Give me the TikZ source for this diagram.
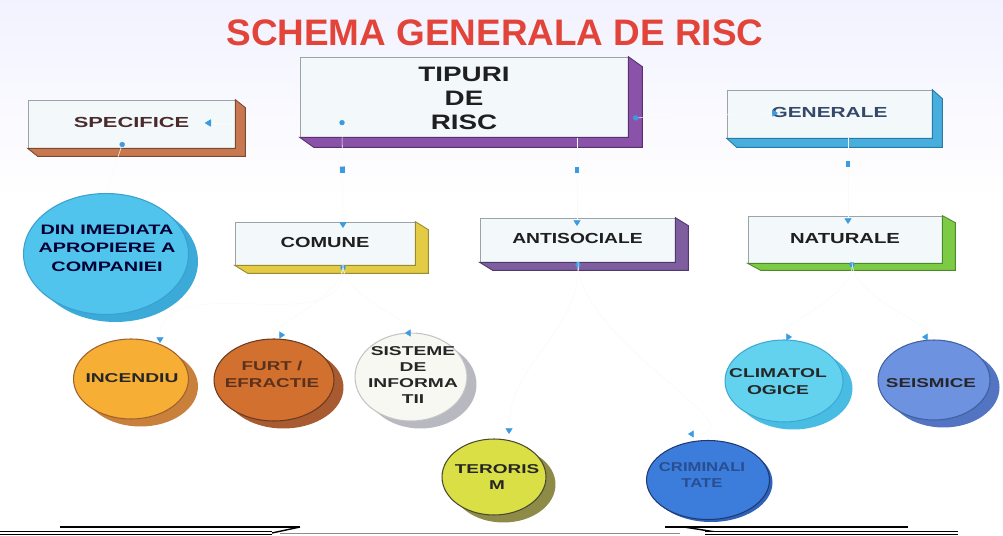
\documentclass[tikz,border=0pt]{standalone}
\usepackage{fontspec}
\setmainfont{Liberation Sans}
\usepackage{graphicx}
\usetikzlibrary{shapes.geometric,shadows,arrows.meta,calc,decorations.markings}

\newcommand{\wtxt}[2]{\scalebox{#1}[1]{\begin{tabular}{@{}c@{}}#2\end{tabular}}}

\definecolor{titlered}{HTML}{E2443A}
\definecolor{tipblue}{HTML}{3B9BE0}
\definecolor{boxfront}{HTML}{F3F9FB}
\definecolor{boxline}{HTML}{9AA4A8}
\definecolor{specside}{HTML}{C87850}\definecolor{specedge}{HTML}{7A4A30}
\definecolor{tipside}{HTML}{8A52A8}\definecolor{tipedge}{HTML}{5A3070}
\definecolor{genside}{HTML}{48AEDD}\definecolor{genedge}{HTML}{2A7AA8}
\definecolor{comside}{HTML}{E3CB45}\definecolor{comedge}{HTML}{9A8A30}
\definecolor{antside}{HTML}{7E5E9E}\definecolor{antedge}{HTML}{50386A}
\definecolor{natside}{HTML}{7DCB45}\definecolor{natedge}{HTML}{4A8A2A}
\definecolor{spectext}{HTML}{4A2A2A}
\definecolor{gentext}{HTML}{34486A}
\definecolor{imfill}{HTML}{50C4EC}\definecolor{imshad}{HTML}{3BAAD8}\definecolor{imline}{HTML}{3AA0D0}
\definecolor{infill}{HTML}{F6AE34}\definecolor{inshad}{HTML}{C8803A}\definecolor{inline}{HTML}{A06030}
\definecolor{fufill}{HTML}{D2702F}\definecolor{fushad}{HTML}{A85A30}\definecolor{fuline}{HTML}{6A3A20}
\definecolor{sifill}{HTML}{F8F8F2}\definecolor{sishad}{HTML}{B8B8C0}\definecolor{siline}{HTML}{C4C4C4}
\definecolor{tefill}{HTML}{D9DF45}\definecolor{teshad}{HTML}{8E8A48}\definecolor{teline}{HTML}{4A4A30}
\definecolor{crfill}{HTML}{3C7CDB}\definecolor{crshad}{HTML}{2E62B8}\definecolor{crline}{HTML}{203A70}
\definecolor{clfill}{HTML}{62D2EE}\definecolor{clshad}{HTML}{48BCE2}\definecolor{clline}{HTML}{40A8D0}
\definecolor{sefill}{HTML}{6C92E0}\definecolor{seshad}{HTML}{5274C2}\definecolor{seline}{HTML}{4060A0}

\tikzset{
  frontbox/.style={rectangle, fill=boxfront, draw=boxline, line width=0.4pt, inner sep=0pt,
    font=\bfseries\fontsize{8.3}{10}\selectfont, text=black!88},
  blob/.style n args={3}{ellipse, fill=#1, draw=#3, line width=0.6pt, inner sep=0pt,
    drop shadow={shadow xshift=0.19cm, shadow yshift=-0.15cm, fill=#2, opacity=1}},
  etext/.style={inner sep=0pt, font=\bfseries\fontsize{7.3}{9.1}\selectfont, text=black!85},
  conn/.style={draw=black!2, line width=0.3pt},
  tipend/.style={-{Triangle[length=3.2pt,width=4pt,color=tipblue]}},
  dottip/.style={{Circle[length=3pt,color=tipblue]}-{Triangle[length=3.2pt,width=4pt,color=tipblue]}},
  dotonly/.style={{Circle[length=3pt,color=tipblue]}-},
  midmark/.style={postaction={decorate, decoration={markings,
    mark=at position #1 with {\fill[tipblue] (-1.8pt,-1.4pt) rectangle (1.8pt,1.4pt);}}}},
  extr/.style={line width=0.5pt}
}

\begin{document}
\begin{tikzpicture}[x=0.02cm,y=-0.02cm]
\useasboundingbox (0,0) rectangle (1003,536);
\fill[white] (0,0) rectangle (1003,536);
\shade[top color=blue!5, bottom color=white] (0,0) rectangle (1003,200);

% title
\node[font=\bfseries\fontsize{21}{24}\selectfont, text=titlered] (title) at (495,33) {SCHEMA GENERALA DE RISC};

% connector end points
\coordinate (tS1) at (342,120);
\coordinate (tS2) at (577,138);
\coordinate (tS3) at (633,118);
\coordinate (tS4) at (300,123);
\coordinate (comIn) at (343,228);
\coordinate (antIn) at (577,226);
\coordinate (specIn) at (205,123);
\coordinate (genIn) at (778,113);
\coordinate (specOut) at (123,142);
\coordinate (genOut) at (848,138);
\coordinate (natIn) at (848,224);
\coordinate (comOut) at (343,265);
\coordinate (antOut) at (578,262);
\coordinate (natOut) at (852,262);
\coordinate (incIn) at (160,343);
\coordinate (furtIn) at (285,335);
\coordinate (sistIn) at (405,333);
\coordinate (teroIn) at (509,434);
\coordinate (crimIn) at (688,434);
\coordinate (climIn) at (792,337);
\coordinate (seisIn) at (922,337);

% boxes (front faces)
\node[frontbox, minimum width=4.14cm, minimum height=0.96cm, text=spectext] (spec) at (131.5,124) {\wtxt{1.5}{SPECIFICE}};
\node[frontbox, minimum width=6.56cm, minimum height=1.6cm, font=\bfseries\fontsize{11.9}{13.6}\selectfont] (tipuri) at (464,97) {\raisebox{-1.9pt}[\height][\depth]{\wtxt{1.33}{TIPURI\\DE\\RISC}}};
\node[frontbox, minimum width=4.1cm, minimum height=0.96cm, text=gentext] (gen) at (829.5,114) {\wtxt{1.43}{GENERALE}};
\node[frontbox, minimum width=3.6cm, minimum height=0.86cm] (com) at (325,243.5) {\wtxt{1.37}{COMUNE}};
\node[frontbox, minimum width=3.9cm, minimum height=0.88cm] (ant) at (577.5,240) {\wtxt{1.32}{ANTISOCIALE}};
\node[frontbox, minimum width=3.88cm, minimum height=0.94cm] (nat) at (845,239.5) {\wtxt{1.39}{NATURALE}};

% connector crossing the SPECIFICE side face: drawn before it
\draw[conn, tipend] (tS4) -- (specIn);

% extrusions (right and bottom faces)
\foreach \n/\dx/\dy/\c/\e in {spec/10/8/specside/specedge, tipuri/14/10/tipside/tipedge, gen/10/9/genside/genedge,
  com/13/8/comside/comedge, ant/13/8/antside/antedge, nat/13/7/natside/natedge}{
  \filldraw[extr, fill=\c, draw=\e] (\n.north east) -- ++(\dx,\dy) -- ($(\n.south east)+(\dx,\dy)$)
     -- ($(\n.south west)+(\dx,\dy)$) -- (\n.south west) -- (\n.south east) -- cycle;
}
% tip of that connector, redrawn on top
\fill[tipblue] (specIn) -- ++(6,-3.5) -- ++(0,7) -- cycle;

% ellipses
\node[blob={imfill}{imshad}{imline}, minimum width=3.3cm, minimum height=2.42cm] (imed) at (106,254) {};
\node[blob={infill}{inshad}{inline}, minimum width=2.3cm, minimum height=1.6cm] (inc) at (131,379) {};
\node[blob={fufill}{fushad}{fuline}, minimum width=2.4cm, minimum height=1.64cm] (furt) at (274,380) {};
\node[blob={sifill}{sishad}{siline}, minimum width=2.24cm, minimum height=1.76cm] (sist) at (411,377) {};
\node[blob={tefill}{teshad}{teline}, minimum width=2.08cm, minimum height=1.52cm] (tero) at (494,477) {};
\node[ellipse, fill=crfill, draw=crline, line width=0.6pt, inner sep=0pt, minimum width=2.46cm, minimum height=1.58cm, drop shadow={shadow xshift=0.06cm, shadow yshift=-0.05cm, fill=crshad, opacity=1}] (crim) at (708,480) {};
\node[blob={clfill}{clshad}{clline}, minimum width=2.36cm, minimum height=1.64cm] (clim) at (784,381) {};
\node[blob={sefill}{seshad}{seline}, minimum width=2.24cm, minimum height=1.6cm] (seis) at (934,380) {};

% ellipse texts
\node[etext, font=\bfseries\fontsize{7.8}{10.5}\selectfont, text=black!80!blue] (imedT) at (107,249) {\wtxt{1.45}{DIN IMEDIATA\\APROPIERE A\\COMPANIEI}};
\node[etext] (incT) at (132,379) {\wtxt{1.5}{INCENDIU}};
\node[etext, font=\bfseries\fontsize{7.3}{9.6}\selectfont, text=fushad!55!black] (furtT) at (272,376) {\wtxt{1.47}{FURT /\\EFRACTIE}};
\node[etext] (sistT) at (413,376) {\wtxt{1.5}{SISTEME\\DE\\INFORMA\\TII}};
\node[etext] (teroT) at (497,478) {\wtxt{1.48}{TERORIS\\M}};
\node[etext, text=crline!70!crfill] (crimT) at (702,476) {\wtxt{1.3}{CRIMINALI\\TATE}};
\node[etext, font=\bfseries\fontsize{7.3}{9.6}\selectfont] (climT) at (778,383) {\wtxt{1.5}{CLIMATOL\\OGICE}};
\node[etext] (seisT) at (931,384) {\wtxt{1.47}{SEISMICE}};

% connectors (almost invisible lines, blue tips)
\draw[conn, dottip, midmark=0.46] (tS1) -- (comIn);
\draw[conn, tipend, midmark=0.36] (tS2) -- (antIn);
\draw[conn, dottip] (tS3) -- (genIn);
\draw[conn, dotonly] (specOut) -- (imed.north);
\draw[conn, tipend, midmark=0.3] (genOut) -- (natIn);
\draw[conn, dottip] (comOut) to[out=-90,in=90] (incIn);
\draw[conn, tipend] (comOut) to[out=-90,in=180] (furtIn);
\draw[conn, tipend] (comOut) to[out=-90,in=0] (sistIn);
\draw[conn, dottip] (antOut) to[out=-90,in=90] (teroIn);
\draw[conn, tipend] (antOut) to[out=-90,in=0] (crimIn);
\draw[conn, dottip] (natOut) to[out=-90,in=180] (climIn);
\draw[conn, tipend] (natOut) to[out=-90,in=0] (seisIn);

% bottom rule
\coordinate (b1) at (0,533); \coordinate (b2) at (272,533);
\coordinate (b3) at (60,527); \coordinate (b4) at (300,527);
\coordinate (b5) at (280,533); \coordinate (b6) at (680,533);
\coordinate (b7) at (665,527); \coordinate (b8) at (908,527);
\coordinate (b9) at (684,527); \coordinate (b10) at (722,533);
\coordinate (b11) at (705,533); \coordinate (b12) at (958,533);
\draw[line width=0.8pt, double=white, double distance=0.9pt] (b1) -- (b2);
\draw[line width=1pt] (b3) -- (b4);
\draw[line width=0.8pt] (b2) -- (b4);
\draw[line width=0.5pt, black!45] (b5) -- (b6);
\draw[line width=1pt] (b7) -- (b8);
\draw[line width=0.8pt] (b9) -- (b10);
\draw[line width=0.8pt, double=white, double distance=0.9pt] (b11) -- (b12);
\end{tikzpicture}
\end{document}
